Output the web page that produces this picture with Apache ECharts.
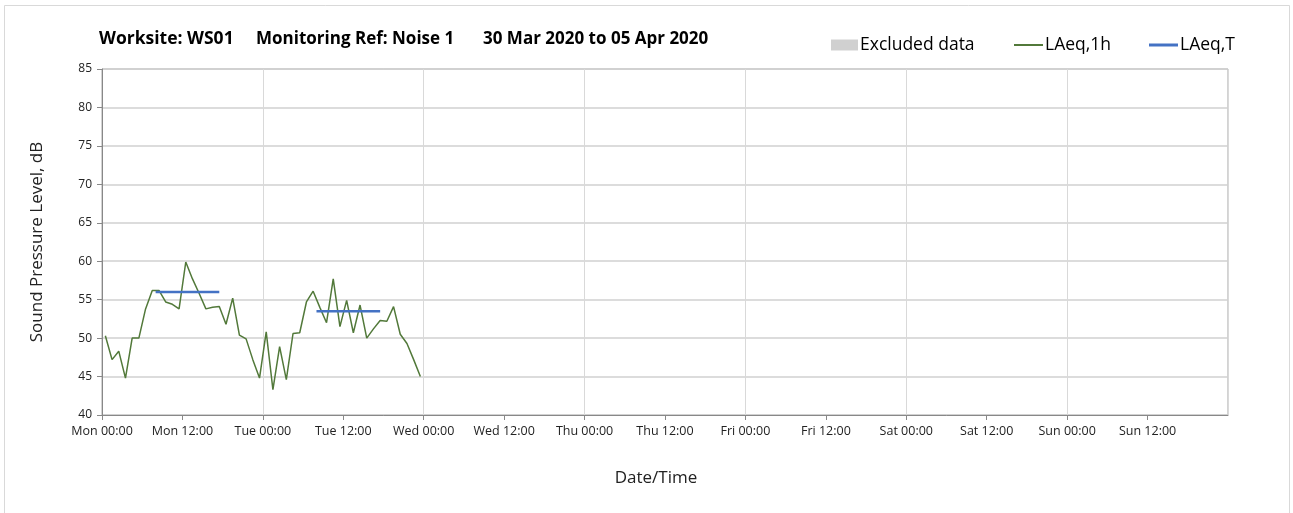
<!DOCTYPE html>
<html>
<head>
<meta charset="utf-8">
<script src="https://cdn.jsdelivr.net/npm/echarts@6/dist/echarts.min.js"></script>
<style>
html, body { margin: 0; padding: 0; background: #fff; }
#chart { width: 1293px; height: 513px; }
</style>
</head>
<body>
<div id="chart"></div>
<script>
// hours from Mon 00:00, hourly points centred on the half hour
var hours = [0.5,1.5,2.5,3.5,4.5,5.5,6.5,7.5,8.5,9.5,10.5,11.5,12.5,13.5,14.5,15.5,16.5,17.5,18.5,19.5,20.5,21.5,22.5,23.5,
             24.5,25.5,26.5,27.5,28.5,29.5,30.5,31.5,32.5,33.5,34.5,35.5,36.5,37.5,38.5,39.5,40.5,41.5,42.5,43.5,44.5,45.5,46.5,47.5];
var laeq1h = [50.3,47.2,48.3,44.8,50.0,50.0,53.8,56.2,56.2,54.7,54.4,53.8,59.9,57.7,55.8,53.8,54.0,54.1,51.8,55.2,50.4,49.9,47.2,44.8,
              50.8,43.3,48.9,44.6,50.6,50.7,54.7,56.1,54.0,52.0,57.7,51.5,54.9,50.7,54.3,50.0,51.2,52.3,52.2,54.1,50.5,49.3,47.2,45.0];
// LAeq,T periods: [start hour, end hour, level]
var laeqT = [[8, 17.5, 56.0], [32, 41.5, 53.5]];
var dayNames = ['Mon','Tue','Wed','Thu','Fri','Sat','Sun'];
var yTicks = [40,45,50,55,60,65,70,75,80,85];
var titleParts = ['Worksite: WS01', 'Monitoring Ref: Noise 1', '30 Mar 2020 to 05 Apr 2020'];

var fontFam = '"Open Sans", "DejaVu Sans", sans-serif';

var lineData = [];
for (var i = 0; i < hours.length; i++) lineData.push([hours[i], laeq1h[i]]);

var tData = [];
laeqT.forEach(function (p) {
	tData.push([p[0], p[2]]);
	tData.push([p[1], p[2]]);
	tData.push([p[1], null]);
});

function xLabel(v) {
	if (v >= 168) return '';
	var d = Math.floor(v / 24);
	var h = v % 24;
	return dayNames[d] + ' ' + (h < 10 ? '0' + h : h) + ':00';
}

function titleText(txt, x, size) {
	return {
		type: 'text',
		x: x,
		y: 39,
		silent: true,
		style: { text: txt, fill: '#000', font: 'bold ' + size + 'px ' + fontFam, verticalAlign: 'middle' }
	};
}

function legendBox(name, x, w, h) {
	return {
		data: [{ name: name, icon: 'rect' }],
		left: x,
		top: 31,
		itemWidth: w,
		itemHeight: h,
		itemGap: 4,
		textStyle: { fontFamily: fontFam, fontSize: 17.5, color: '#000', padding: [0, 0, 0, -3] }
	};
}

var myChart = echarts.init(document.getElementById('chart'));

var option = {
	animation: false,
	backgroundColor: '#fff',
	graphic: [{
		type: 'rect',
		shape: { x: 4.5, y: 5.5, width: 1285, height: 520 },
		style: { fill: 'none', stroke: '#d9d9d9', lineWidth: 1 },
		silent: true
	},
	titleText(titleParts[0], 99, 17.5),
	titleText(titleParts[1], 256, 17),
	titleText(titleParts[2], 483, 17)],
	legend: [
		legendBox('Excluded data', 826, 27, 11),
		legendBox('LAeq,1h', 1009, 29, 2),
		legendBox('LAeq,T', 1144, 29, 3)
	],
	grid: {
		left: 102,
		right: 65,
		top: 69,
		bottom: 98,
		show: true,
		borderColor: '#a6a6a6',
		borderWidth: 1
	},
	xAxis: [{
		type: 'value',
		min: 0,
		max: 168,
		interval: 12,
		name: 'Date/Time',
		nameLocation: 'middle',
		nameGap: 55,
		nameTextStyle: { fontFamily: fontFam, fontSize: 17, color: '#222', padding: [0, 18, 0, 0] },
		axisLine: { show: true, lineStyle: { color: '#888' } },
		axisTick: { show: true, length: 5, lineStyle: { color: '#888' } },
		axisLabel: {
			formatter: xLabel,
			fontFamily: fontFam,
			fontSize: 12.5,
			color: '#222',
			margin: 10,
			showMaxLabel: false
		},
		splitLine: { show: false }
	}, {
		type: 'value',
		min: 0,
		max: 168,
		interval: 24,
		position: 'bottom',
		axisLine: { show: false },
		axisTick: { show: false },
		axisLabel: { show: false },
		splitLine: { show: true, lineStyle: { color: '#d9d9d9', width: 1 } }
	}],
	yAxis: {
		type: 'value',
		min: yTicks[0],
		max: yTicks[yTicks.length - 1],
		interval: 5,
		name: 'Sound Pressure Level, dB',
		nameLocation: 'middle',
		nameGap: 56,
		nameTextStyle: { fontFamily: fontFam, fontSize: 17, color: '#222' },
		axisLine: { show: true, lineStyle: { color: '#888' } },
		axisTick: { show: true, length: 5, lineStyle: { color: '#888' } },
		axisLabel: { fontFamily: fontFam, fontSize: 12, color: '#222', margin: 10 },
		splitLine: { show: true, lineStyle: { color: '#d0d0d0', width: 1.5 } }
	},
	series: [{
		name: 'Excluded data',
		type: 'bar',
		itemStyle: { color: '#d0d0d0' },
		data: []
	}, {
		name: 'LAeq,1h',
		type: 'line',
		symbol: 'none',
		itemStyle: { color: '#52793a' },
		lineStyle: { color: '#52793a', width: 1.5 },
		data: lineData
	}, {
		name: 'LAeq,T',
		type: 'line',
		symbol: 'none',
		connectNulls: false,
		itemStyle: { color: '#4472c4' },
		lineStyle: { color: '#4472c4', width: 2.5 },
		data: tData
	}]
};

myChart.setOption(option);
</script>
</body>
</html>
